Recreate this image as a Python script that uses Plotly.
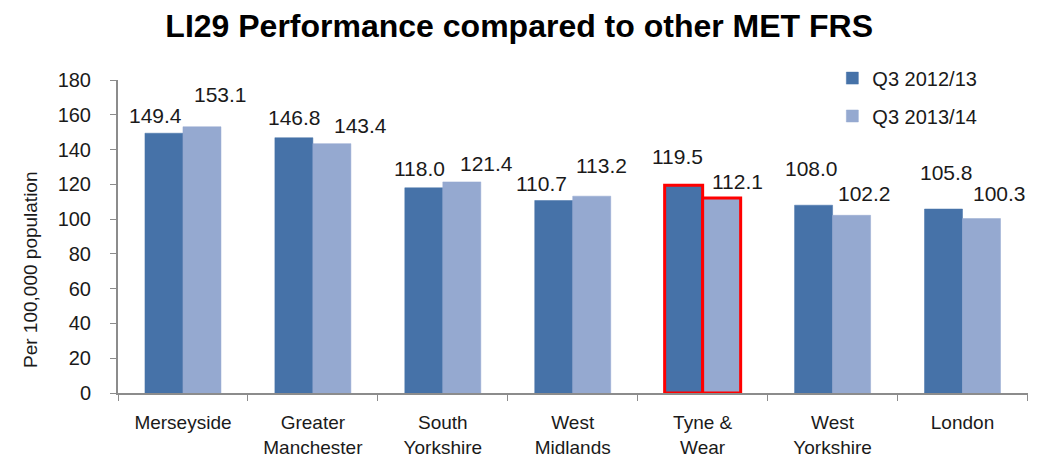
import plotly.graph_objects as go

categories = ["Merseyside", "Greater<br>Manchester", "South<br>Yorkshire", "West<br>Midlands",
              "Tyne &<br>Wear", "West<br>Yorkshire", "London"]
q3_2012 = [149.4, 146.8, 118.0, 110.7, 119.5, 108.0, 105.8]
q3_2013 = [153.1, 143.4, 121.4, 113.2, 112.1, 102.2, 100.3]
series_names = ["Q3 2012/13", "Q3 2013/14"]
highlight = "Tyne &<br>Wear"
y_ticks = [0, 20, 40, 60, 80, 100, 120, 140, 160, 180]
y_title = "Per 100,000 population"
chart_title = "LI29 Performance compared to other MET FRS"

# label placement offsets (pixels) relative to the top-centre of each category
label_dx_2012 = [-27, -18, -23, -31, -25, -21, -16]
label_dx_2013 = [38, 48, 44, 29, 35, 32, 37]
label_dy_2012 = [4, 7, 6, 4, 15, 23, 23]
label_dy_2013 = [19, 5, 5, 17, 3, 8, 12]

COL_DARK = "#4672A8"
COL_LIGHT = "#95A9D0"
FONT = "Liberation Sans, Arial, sans-serif"


def outline_colors(base):
    return ["#FF0000" if c == highlight else base for c in categories]


def outline_widths():
    return [3 if c == highlight else 0.5 for c in categories]


fig = go.Figure()
fig.add_trace(go.Bar(
    name=series_names[0], x=categories, y=q3_2012, legend="legend",
    marker=dict(color=COL_DARK, line=dict(color=outline_colors(COL_DARK), width=outline_widths())),
))
fig.add_trace(go.Bar(
    name=series_names[1], x=categories, y=q3_2013, legend="legend2",
    marker=dict(color=COL_LIGHT, line=dict(color=outline_colors(COL_LIGHT), width=outline_widths())),
))

annotations = []
for vals, dxs, dys in ((q3_2012, label_dx_2012, label_dy_2012),
                       (q3_2013, label_dx_2013, label_dy_2013)):
    for cat, v, dx, dy in zip(categories, vals, dxs, dys):
        annotations.append(dict(
            x=cat, y=v, xref="x", yref="y", text=f"{v:.1f}", showarrow=False,
            xanchor="center", yanchor="bottom", xshift=dx, yshift=dy,
            font=dict(size=21, color="#1a1a1a"),
        ))

# y-axis title (placed lower than centre, as in the original)
annotations.append(dict(
    x=0, y=0.393, xref="paper", yref="paper", text=y_title, showarrow=False,
    textangle=-90, xanchor="center", yanchor="middle", xshift=-87,
    font=dict(size=19, color="#1a1a1a"),
))

fig.update_layout(
    width=1054, height=461,
    margin=dict(l=110, r=34, t=72, b=76, autoexpand=False),
    paper_bgcolor="white", plot_bgcolor="white",
    font=dict(family=FONT, size=18, color="#1a1a1a"),
    title=dict(text=f"<b>{chart_title}</b>",
               x=0.485, xanchor="center", y=0.962, yanchor="middle",
               font=dict(size=32, color="#000000")),
    barmode="group", bargap=0.415, bargroupgap=0,
    showlegend=True,
    legend=dict(x=0.785, y=1.006, xanchor="left", yanchor="middle",
                font=dict(size=20), bgcolor="rgba(0,0,0,0)"),
    legend2=dict(x=0.785, y=0.885, xanchor="left", yanchor="middle",
                 font=dict(size=20), bgcolor="rgba(0,0,0,0)"),
    annotations=annotations,
)
fig.update_xaxes(
    showline=True, linecolor="#8c8c8c", linewidth=2,
    ticks="outside", ticklen=6, tickcolor="#8c8c8c",
    tickson="boundaries", showgrid=False, automargin=False,
    tickfont=dict(size=19), ticklabelstandoff=11,
)
fig.update_yaxes(
    range=[0, 180], tickvals=y_ticks, showgrid=False,
    showline=True, linecolor="#8c8c8c", linewidth=2,
    ticks="outside", ticklen=6, tickcolor="#8c8c8c",
    tickfont=dict(size=20), ticklabelstandoff=15, automargin=False,
    zeroline=False,
)

fig.write_html("out.html")
